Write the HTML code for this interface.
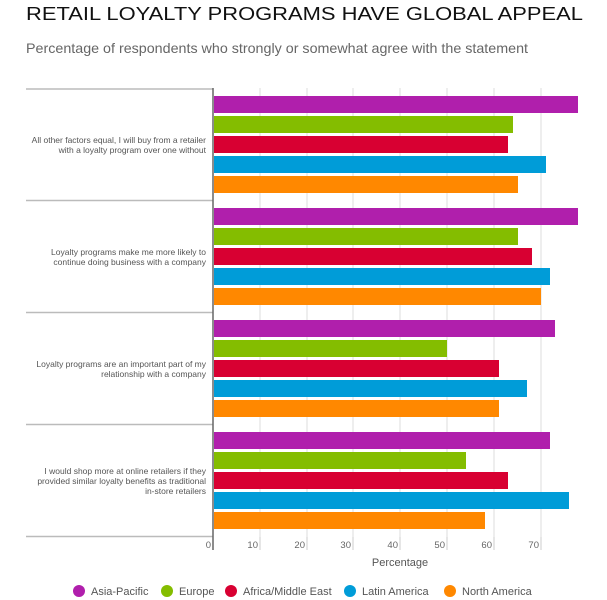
<!DOCTYPE html>
<html><head><meta charset="utf-8"><style>
html,body{margin:0;padding:0;background:#fff;}
svg{display:block;font-family:"Liberation Sans",sans-serif;}
</style></head><body>
<svg width="607" height="600" viewBox="0 0 607 600">
<text x="26" y="20" font-size="18.5" fill="#111" textLength="557" lengthAdjust="spacingAndGlyphs">RETAIL LOYALTY PROGRAMS HAVE GLOBAL APPEAL</text>
<text x="26" y="53" font-size="14" fill="#666" textLength="502" lengthAdjust="spacingAndGlyphs">Percentage of respondents who strongly or somewhat agree with the statement</text>
<g stroke="#ddd" stroke-width="1">
<line x1="260" y1="88" x2="260" y2="537"/><line x1="307" y1="88" x2="307" y2="537"/><line x1="353" y1="88" x2="353" y2="537"/><line x1="400" y1="88" x2="400" y2="537"/><line x1="447" y1="88" x2="447" y2="537"/><line x1="494" y1="88" x2="494" y2="537"/><line x1="541" y1="88" x2="541" y2="537"/>
</g>
<g stroke="#ccc" stroke-width="1">
<line x1="260" y1="537" x2="260" y2="550"/><line x1="307" y1="537" x2="307" y2="550"/><line x1="353" y1="537" x2="353" y2="550"/><line x1="400" y1="537" x2="400" y2="550"/><line x1="447" y1="537" x2="447" y2="550"/><line x1="494" y1="537" x2="494" y2="550"/><line x1="541" y1="537" x2="541" y2="550"/>
</g>
<g stroke="#bbb" stroke-width="1.5">
<line x1="26" y1="89" x2="213" y2="89"/><line x1="26" y1="200.5" x2="213" y2="200.5"/><line x1="26" y1="312.5" x2="213" y2="312.5"/><line x1="26" y1="424.5" x2="213" y2="424.5"/><line x1="26" y1="536.5" x2="213" y2="536.5"/>
</g>
<g>
<rect x="214" y="96" width="364" height="17" fill="#b01fac"/>
<rect x="214" y="116" width="299" height="17" fill="#84bd00"/>
<rect x="214" y="136" width="294" height="17" fill="#d80032"/>
<rect x="214" y="156" width="332" height="17" fill="#009cd8"/>
<rect x="214" y="176" width="304" height="17" fill="#ff8800"/>

<rect x="214" y="208" width="364" height="17" fill="#b01fac"/>
<rect x="214" y="228" width="304" height="17" fill="#84bd00"/>
<rect x="214" y="248" width="318" height="17" fill="#d80032"/>
<rect x="214" y="268" width="336" height="17" fill="#009cd8"/>
<rect x="214" y="288" width="327" height="17" fill="#ff8800"/>

<rect x="214" y="320" width="341" height="17" fill="#b01fac"/>
<rect x="214" y="340" width="233" height="17" fill="#84bd00"/>
<rect x="214" y="360" width="285" height="17" fill="#d80032"/>
<rect x="214" y="380" width="313" height="17" fill="#009cd8"/>
<rect x="214" y="400" width="285" height="17" fill="#ff8800"/>

<rect x="214" y="432" width="336" height="17" fill="#b01fac"/>
<rect x="214" y="452" width="252" height="17" fill="#84bd00"/>
<rect x="214" y="472" width="294" height="17" fill="#d80032"/>
<rect x="214" y="492" width="355" height="17" fill="#009cd8"/>
<rect x="214" y="512" width="271" height="17" fill="#ff8800"/>
</g>
<line x1="213" y1="88" x2="213" y2="550" stroke="#666" stroke-width="1.5"/>
<g font-size="8.5" fill="#555" text-anchor="end">
<text x="206" y="143">All other factors equal, I will buy from a retailer</text>
<text x="206" y="153">with a loyalty program over one without</text>
<text x="206" y="255">Loyalty programs make me more likely to</text>
<text x="206" y="265">continue doing business with a company</text>
<text x="206" y="367">Loyalty programs are an important part of my</text>
<text x="206" y="377">relationship with a company</text>
<text x="206" y="474">I would shop more at online retailers if they</text>
<text x="206" y="484">provided similar loyalty benefits as traditional</text>
<text x="206" y="494">in-store retailers</text>
</g>
<g font-size="9.5" fill="#666" text-anchor="end">
<text x="211" y="548">0</text><text x="258" y="548">10</text><text x="305" y="548">20</text><text x="351" y="548">30</text><text x="398" y="548">40</text><text x="445" y="548">50</text><text x="492" y="548">60</text><text x="539" y="548">70</text>
</g>
<text x="400" y="566" font-size="11" fill="#555" text-anchor="middle">Percentage</text>
<g font-size="11" fill="#555">
<circle cx="79" cy="591" r="6" fill="#b01fac"/><text x="91" y="595">Asia-Pacific</text>
<circle cx="167" cy="591" r="6" fill="#84bd00"/><text x="179" y="595">Europe</text>
<circle cx="231" cy="591" r="6" fill="#d80032"/><text x="243" y="595">Africa/Middle East</text>
<circle cx="350" cy="591" r="6" fill="#009cd8"/><text x="362" y="595">Latin America</text>
<circle cx="450" cy="591" r="6" fill="#ff8800"/><text x="462" y="595">North America</text>
</g>
</svg>
</body></html>
